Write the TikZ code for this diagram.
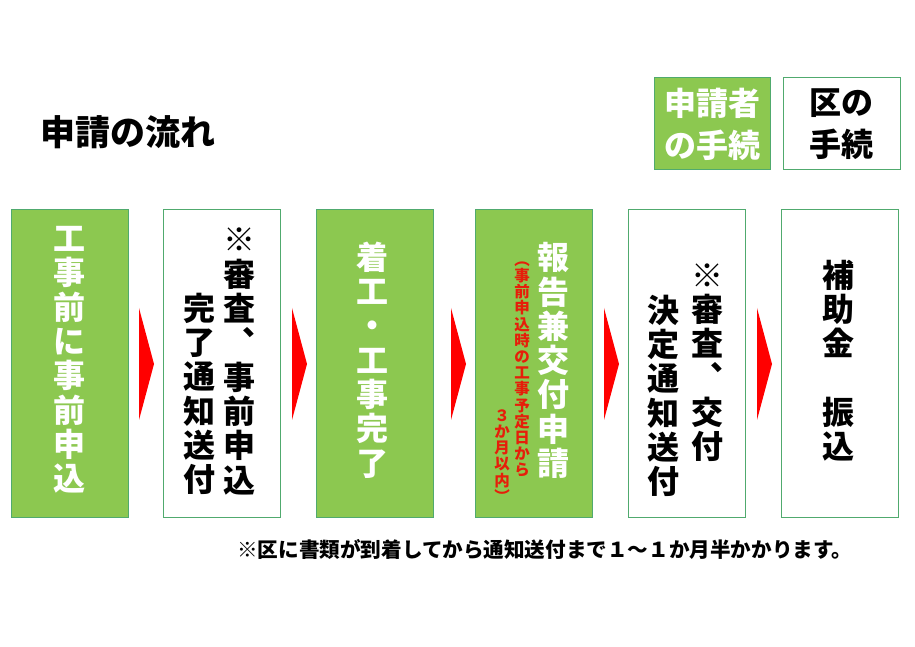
\documentclass[tikz,border=0pt]{standalone}
\usepackage{fontspec}
\setmainfont{Noto Sans CJK JP}
\usetikzlibrary{calc}
\usetikzlibrary{positioning}

\definecolor{leaf}{RGB}{140,200,80}
\definecolor{leafline}{RGB}{80,170,110}
\definecolor{notered}{RGB}{230,30,10}

\tikzset{
  applicant/.style={draw=leafline,fill=leaf,line width=1pt,minimum width=117pt,minimum height=308pt,inner sep=0pt,outer sep=0pt},
  ward/.style={draw=leafline,fill=white,line width=1pt,minimum width=117pt,minimum height=308pt,inner sep=0pt,outer sep=0pt},
  tate/.style={align=center,inner sep=0pt,font=\fontsize{32}{34.3}\selectfont\bfseries},
  tatesmall/.style={align=center,inner sep=0pt,text=notered,font=\fontsize{15.5}{16.2}\selectfont\bfseries},
  flow/.style={fill=red}
}

\begin{document}
\begin{tikzpicture}[x=1pt,y=1pt]
  \useasboundingbox (0,0) rectangle (915,647);
  \fill [white] (0,0) rectangle (915,647);

  \node [font=\fontsize{35}{35}\selectfont\bfseries,anchor=west,inner sep=0pt] (title) at (40,515) {申請の流れ};

  \node [applicant,minimum width=116pt,minimum height=92pt,text=white,align=center,font=\fontsize{32}{42}\selectfont\bfseries] (legA) at (712,523) {申請者\\の手続};
  \node [ward,minimum width=117pt,minimum height=92pt,align=center,font=\fontsize{32}{42}\selectfont\bfseries,right=13pt of legA] (legB) {区の\\手続};

  % steps
  \node [applicant] (s1) at (69.5,283) {};
  \node [ward,right=35pt of s1] (s2) {};
  \node [applicant,right=36pt of s2] (s3) {};
  \node [applicant,right=42pt of s3] (s4) {};
  \node [ward,right=36pt of s4] (s5) {};
  \node [ward,right=36pt of s5] (s6) {};

  \node [tate,text=white] (s1t) at ($(s1.center)+(0,4)$) {工\\事\\前\\に\\事\\前\\申\\込};
  \node [tate] (s2r) at ($(s2.center)+(18,2.5)$) {※\\審\\査\\︑\\事\\前\\申\\込};
  \node [tate] (s2l) at ($(s2.center)+(-22,-30)$) {完\\了\\通\\知\\送\\付};
  \node [tate,text=white] (s3t) at ($(s3.center)+(-2,4)$) {着\\工\\・\\工\\事\\完\\了};
  \node [tate,text=white] (s4t) at ($(s4.center)+(19.5,3.5)$) {報\\告\\兼\\交\\付\\申\\請};
  \node [tatesmall] (s4r) at ($(s4.center)+(-11.5,-5.5)$) {︵\\事\\前\\申\\込\\時\\の\\工\\事\\予\\定\\日\\か\\ら};
  \node [tatesmall] (s4l) at ($(s4.center)+(-31.5,-92)$) {３\\か\\月\\以\\内\\︶};
  \node [tate] (s5r) at ($(s5.center)+(20.5,1.5)$) {※\\審\\査\\︑\\交\\付};
  \node [tate] (s5l) at ($(s5.center)+(-23.5,-32)$) {決\\定\\通\\知\\送\\付};
  \node [tate] (s6t) at ($(s6.center)+(-1.5,3.5)$) {補\\助\\金\\　\\振\\込};

  \foreach \b in {s2,s3,s4,s5,s6}
    \fill [flow] ($(\b.west)+(-24,56)$) -- ($(\b.west)+(-9,0)$) -- ($(\b.west)+(-24,-56)$) -- cycle;

  \node [font=\fontsize{20.6}{21}\selectfont\bfseries,anchor=west,inner sep=0pt] (note) at (237,98) {※区に書類が到着してから通知送付まで１～１か月半かかります。};
\end{tikzpicture}
\end{document}
